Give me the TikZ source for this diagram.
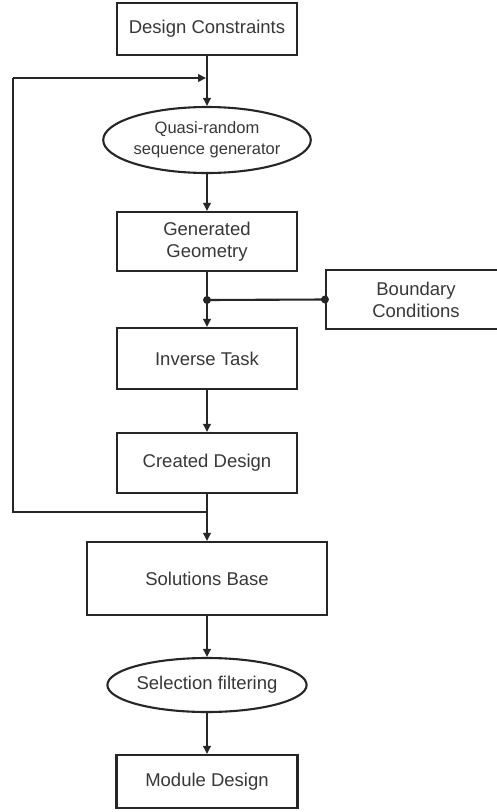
\documentclass[tikz,border=0pt]{standalone}
\usepackage{fontspec}
\setmainfont{Liberation Sans}
\usetikzlibrary{arrows.meta,shapes.geometric}
\definecolor{ln}{HTML}{262626}
\definecolor{tx}{HTML}{383838}
\begin{document}
\begin{tikzpicture}[x=1pt,y=-1pt,
  every node/.style={text=tx,font=\fontsize{18.5}{22}\selectfont,align=center,inner sep=0pt},
  box/.style={draw=ln,line width=2.1pt,rectangle},
  ell/.style={draw=ln,line width=2.1pt,ellipse},
  conn/.style={draw=ln,line width=2.1pt},
  arr/.style={conn,-{Triangle[length=8pt,width=7.5pt]}},
  dot/.style={circle,fill=ln,minimum size=8pt,inner sep=0pt}]
\useasboundingbox[fill=white] (0,0) rectangle (497,812);
\node[box,minimum width=180pt,minimum height=52pt] (dc) at (207,29) {Design Constraints};
\node[ell,minimum width=181pt,minimum height=66pt,font=\fontsize{16.5}{21}\selectfont] (qr) at (207,140) {Quasi-random\\sequence generator};
\node[box,minimum width=180pt,minimum height=59pt] (gg) at (207,241.5) {Generated\\Geometry};
\node[box,minimum width=180pt,minimum height=59pt] (bc) at (416,299.5) {Boundary\\Conditions};
\node[box,minimum width=180pt,minimum height=61pt] (it) at (207,358.5) {Inverse Task};
\node[box,minimum width=180pt,minimum height=60pt] (cd) at (207,463) {Created Design};
\node[box,minimum width=240pt,minimum height=73pt] (sb) at (207,578.5) {Solutions Base};
\node[ell,minimum width=159pt,minimum height=54pt] (sf) at (207,685) {Selection filtering};
\node[box,minimum width=181pt,minimum height=53pt] (md) at (207,781.5) {Module Design};
\coordinate (m1) at (207,78);
\coordinate (m2) at (207,512);
\coordinate (L1) at (13,512);
\coordinate (L2) at (13,78);
\coordinate (j) at (207,300);
\draw[arr] (dc.south) -- (qr.north);
\draw[conn] (m2) -- (L1) -- (L2);
\draw[arr,shorten >=1pt] (L2) -- (m1);
\draw[arr] (qr.south) -- (gg.north);
\draw[arr] (gg.south) -- (it.north);
\draw[conn] (j) -- (bc.west);
\node[dot] (d1) at (j) {};
\node[dot] (d2) at (bc.west) {};
\draw[arr] (it.south) -- (cd.north);
\draw[arr] (cd.south) -- (sb.north);
\draw[arr] (sb.south) -- (sf.north);
\draw[arr] (sf.south) -- (md.north);
\end{tikzpicture}
\end{document}
